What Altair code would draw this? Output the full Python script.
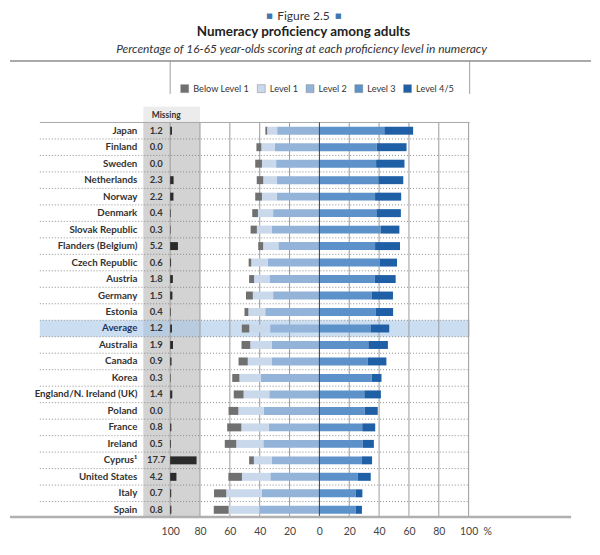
import altair as alt
import pandas as pd

# ---------------- data ----------------
countries = ["Japan", "Finland", "Sweden", "Netherlands", "Norway", "Denmark",
             "Slovak Republic", "Flanders (Belgium)", "Czech Republic", "Austria",
             "Germany", "Estonia", "Average", "Australia", "Canada", "Korea",
             "England/N. Ireland (UK)", "Poland", "France", "Ireland", "Cyprus¹",
             "United States", "Italy", "Spain"]
missing = [1.2, 0.0, 0.0, 2.3, 2.2, 0.4, 0.3, 5.2, 0.6, 1.8, 1.5, 0.4,
           1.2, 1.9, 0.9, 0.3, 1.4, 0.0, 0.8, 0.5, 17.7, 4.2, 0.7, 0.8]
below1 = [1.2, 3.3, 4.5, 4.4, 4.5, 3.8, 4.2, 3.3, 1.7, 3.3, 4.6, 2.6,
          5.0, 5.9, 6.2, 4.8, 6.6, 6.6, 9.5, 7.7, 3.2, 9.1, 8.2, 10.0]
level1 = [6.7, 8.9, 9.5, 8.9, 9.9, 10.2, 9.9, 10.2, 11.0, 10.3, 13.6, 11.3,
          14.0, 14.3, 15.9, 14.4, 17.2, 16.9, 18.3, 18.1, 12.1, 19.0, 23.9, 20.6]
level2 = [28.3, 30.0, 29.0, 28.7, 28.6, 31.0, 32.0, 27.5, 34.7, 33.5, 31.0, 36.3,
          33.0, 32.0, 32.1, 39.2, 33.6, 37.4, 34.0, 37.6, 31.8, 32.9, 38.5, 40.2]
level3 = [43.5, 38.4, 38.0, 39.5, 37.3, 38.2, 41.0, 37.3, 40.6, 37.1, 35.0, 37.9,
          34.4, 32.8, 32.3, 35.0, 30.1, 30.4, 28.7, 29.0, 28.3, 25.7, 24.3, 24.3]
level45 = [19.3, 20.0, 19.0, 16.7, 17.5, 16.4, 12.6, 16.7, 11.4, 14.0, 14.3, 11.5,
           12.4, 13.1, 12.6, 6.6, 11.1, 8.7, 8.7, 7.5, 7.0, 8.7, 4.5, 4.2]

levels = ["Below Level 1", "Level 1", "Level 2", "Level 3", "Level 4/5"]
level_colors = ["#707070", "#c9d8eb", "#93b3d8", "#5d91c9", "#1e5fa6"]
tick_values = [-100, -80, -60, -40, -20, 0, 20, 40, 60, 80, 100]

# ---------------- tables ----------------
rows = []
for i, c in enumerate(countries):
    l2, l1, b = level2[i], level1[i], below1[i]
    rows.append((c, "Level 2", -l2, 0.0))
    rows.append((c, "Level 1", -(l2 + l1), -l2))
    rows.append((c, "Below Level 1", -(l2 + l1 + b), -(l2 + l1)))
    rows.append((c, "Level 3", 0.0, level3[i]))
    rows.append((c, "Level 4/5", level3[i], level3[i] + level45[i]))
bars_df = pd.DataFrame(rows, columns=["country", "level", "x0", "x1"])

miss_df = pd.DataFrame({"country": countries, "missing": missing})
miss_df["x0"] = -100.0
miss_df["x1"] = -100.0 + miss_df["missing"]

FONT = "Lato"
W, H = 584, 511
XL, XR = -187.33, 100.67          # frame extent (data units)
YT, YB = 113.7, 511.3             # rows extent (pixels)

xs = alt.Scale(domain=[-100, 100], range=[161, 461], zero=False, nice=False)
ys = alt.Scale(domain=countries, range=[YT, YB], paddingInner=0, paddingOuter=0)

xaxis = alt.Axis(values=tick_values, labelExpr="abs(datum.value)", ticks=False,
                 domain=False, grid=False, labelFontSize=10.5, labelFont=FONT,
                 labelColor="#444444", labelPadding=9, labelFlush=False,
                 labelOverlap=False, title=None)

def one(**kw):
    return pd.DataFrame({k: [v] for k, v in kw.items()})

# grey "missing" column
grey_band = alt.Chart(one(a=-118.0, b=-80.0)).mark_rect(color="#d3d3d3").encode(
    x=alt.X("a:Q", scale=xs, axis=xaxis), x2="b:Q",
    y=alt.value(YT), y2=alt.value(YB))
grey_head = alt.Chart(one(a=-118.0, b=-80.0)).mark_rect(color="#ececec").encode(
    x=alt.X("a:Q", scale=xs), x2="b:Q", y=alt.value(98), y2=alt.value(YT))
missing_title = alt.Chart(one(t="Missing")).mark_text(
    font=FONT, fontSize=8.5, fontWeight="bold", color="#333333").encode(
    text="t:N", x=alt.value(157), y=alt.value(106))

# average highlight
avg = alt.Chart(one(country="Average", a=XL, b=XR)).mark_rect(
    color="#a9c8e8", opacity=0.6).encode(
    x=alt.X("a:Q", scale=xs), x2="b:Q", y=alt.Y("country:N", scale=ys, axis=None))

# grid
grid_df = pd.DataFrame({"v": [v for v in tick_values if v != 0]})
grid = alt.Chart(grid_df).mark_rule(color="#9a9a9a", strokeWidth=1).encode(
    x=alt.X("v:Q", scale=xs), y=alt.value(YT), y2=alt.value(YB))
zero_line = alt.Chart(one(v=0.0)).mark_rule(color="#2c3e63", strokeWidth=1).encode(
    x=alt.X("v:Q", scale=xs), y=alt.value(YT), y2=alt.value(YB))

sep_df = pd.DataFrame({"country": countries[:-1], "a": XL, "b": XR})
seps = alt.Chart(sep_df).mark_rule(color="#8a8a8a", strokeDash=[1, 2], strokeWidth=1).encode(
    x=alt.X("a:Q", scale=xs), x2="b:Q",
    y=alt.Y("country:N", scale=ys, axis=None, bandPosition=1))
top_line = alt.Chart(one(a=XL, b=XR)).mark_rule(color="#a8a8a8", strokeWidth=1).encode(
    x=alt.X("a:Q", scale=xs), x2="b:Q", y=alt.value(YT))
bottom_line = alt.Chart(one(a=-207.33, b=168.67)).mark_rule(color="#b0b0b0", strokeWidth=2.5).encode(
    x=alt.X("a:Q", scale=xs), x2="b:Q", y=alt.value(YB - 1))

# bars
bars = alt.Chart(bars_df).mark_bar(size=8).encode(
    x=alt.X("x0:Q", scale=xs), x2="x1:Q",
    y=alt.Y("country:N", scale=ys, axis=None),
    color=alt.Color("level:N", scale=alt.Scale(domain=levels, range=level_colors),
                    legend=alt.Legend(orient="none", direction="horizontal", legendX=171,
                                      legendY=75, title=None, symbolType="square",
                                      symbolSize=64, symbolStrokeWidth=0.5,
                                      symbolStrokeColor="#888888",
                                      labelFont=FONT, labelFontSize=9.2,
                                      labelColor="#333333", columnPadding=6,
                                      labelOffset=4, padding=0)))
miss_bars = alt.Chart(miss_df).mark_bar(size=8, color="#2a2a2a").encode(
    x=alt.X("x0:Q", scale=xs), x2="x1:Q",
    y=alt.Y("country:N", scale=ys, axis=None))
miss_text = alt.Chart(miss_df).mark_text(
    font=FONT, fontSize=9.5, fontWeight="bold", color="#333333", align="center").encode(
    text=alt.Text("missing:Q", format=".1f"), x=alt.value(147),
    y=alt.Y("country:N", scale=ys, axis=None))

names = alt.Chart(pd.DataFrame({"country": countries})).mark_text(
    font=FONT, fontSize=9.8, fontWeight="bold", align="right").encode(
    text="country:N", x=alt.value(128),
    y=alt.Y("country:N", scale=ys, axis=None),
    color=alt.condition(alt.datum.country == "Average", alt.value("#1d3561"),
                        alt.value("#333333")))

# header
legend_box = alt.Chart(pd.DataFrame({"v": [-100.0, 100.67]})).mark_rule(
    color="#a0a0a0").encode(x=alt.X("v:Q", scale=xs), y=alt.value(52), y2=alt.value(85))
header_line = alt.Chart(one(a=-207.33, b=182.0)).mark_rule(color="#8c8c8c", strokeWidth=1.5).encode(
    x=alt.X("a:Q", scale=xs), x2="b:Q", y=alt.value(52))
fig_no = alt.Chart(one(t="Figure 2.5")).mark_text(
    font=FONT, fontSize=12, color="#333333").encode(
    text="t:N", x=alt.value(295), y=alt.value(7))
squares = alt.Chart(pd.DataFrame({"t": ["■", "■"], "px": [261, 330]})).mark_text(
    font="DejaVu Sans", fontSize=7, color="#3f77b3").encode(
    text="t:N", x=alt.X("px:Q", scale=None), y=alt.value(7))
title = alt.Chart(one(t="Numeracy proficiency among adults")).mark_text(
    font=FONT, fontSize=13.5, fontWeight="bold", color="#222222").encode(
    text="t:N", x=alt.value(295), y=alt.value(23))
subtitle = alt.Chart(one(t="Percentage of 16-65 year-olds scoring at each proficiency level in numeracy")).mark_text(
    font=FONT, fontSize=12, fontStyle="italic", color="#333333").encode(
    text="t:N", x=alt.value(293), y=alt.value(40))
pct = alt.Chart(one(t="%")).mark_text(
    font=FONT, fontSize=10.5, color="#444444", align="left").encode(
    text="t:N", x=alt.value(476), y=alt.value(YB + 14))

chart = alt.layer(
    grey_band, grey_head, missing_title, avg, grid, seps, top_line,
    bars, miss_bars, zero_line, bottom_line, miss_text, names,
    legend_box, header_line, fig_no, squares, title, subtitle, pct
).properties(width=W, height=H, padding=0).configure_view(stroke=None)

chart.save("out.html", embed_options={"renderer": "svg", "actions": False})
